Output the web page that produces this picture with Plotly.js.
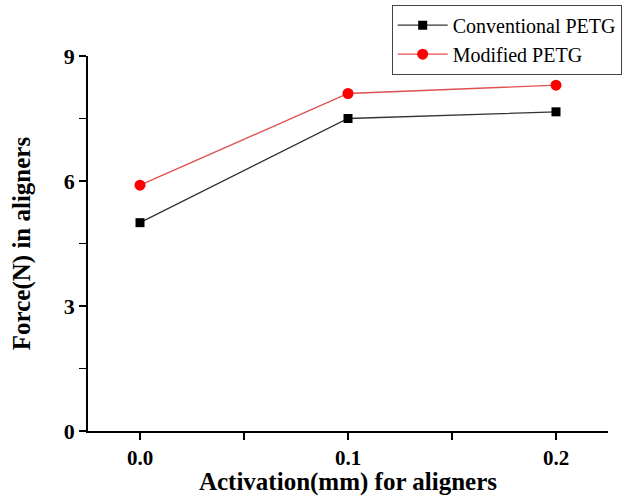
<!DOCTYPE html>
<html>
<head>
<meta charset="utf-8">
<script src="https://cdn.plot.ly/plotly-3.0.1.min.js"></script>
<style>html,body{margin:0;padding:0;background:#fff;}#chart{width:624px;height:496px;}</style>
</head>
<body>
<div id="chart"></div>
<script>
const activation = [0.0, 0.1, 0.2];
const conventionalPETG = [5.0, 7.5, 7.66];
const modifiedPETG = [5.9, 8.1, 8.3];
const seriesNames = ["Conventional PETG", "Modified PETG"];
const xTickVals = [0.0, 0.1, 0.2];
const xTickText = ["0.0", "0.1", "0.2"];
const yTickVals = [0, 3, 6, 9];

const serif = "Liberation Serif, Times New Roman, serif";

const traces = [
  {
    x: activation, y: conventionalPETG, name: seriesNames[0],
    type: "scatter", mode: "lines+markers",
    line: {color: "#333333", width: 1.3},
    marker: {symbol: "square", size: 9, color: "#000000"}
  },
  {
    x: activation, y: modifiedPETG, name: seriesNames[1],
    type: "scatter", mode: "lines+markers",
    line: {color: "#e05050", width: 1.3},
    marker: {symbol: "circle", size: 11, color: "#ff0000"}
  }
];

const layout = {
  width: 624, height: 496,
  paper_bgcolor: "#ffffff", plot_bgcolor: "#ffffff",
  margin: {l: 88, r: 16, t: 56, b: 65, autoexpand: false},
  font: {family: serif, color: "#000"},
  showlegend: true,
  legend: {
    x: 0.584, y: 1.137, xanchor: "left", yanchor: "top",
    bordercolor: "#444", borderwidth: 1, bgcolor: "#fff",
    font: {family: serif, size: 20, color: "#000"},
    itemwidth: 50,
    tracegroupgap: 0
  },
  xaxis: {
    range: [-0.025, 0.225],
    tickvals: xTickVals, ticktext: xTickText,
    ticks: "outside", ticklen: 7, tickwidth: 1.5, tickcolor: "#000",
    minor: {ticks: "outside", dtick: 0.05, tick0: 0, ticklen: 7, tickwidth: 1.5, tickcolor: "#000"},
    showline: true, linecolor: "#000", linewidth: 1.8,
    showgrid: false, zeroline: false,
    tickfont: {family: serif, size: 21, color: "#000", weight: "bold"},
    title: {text: "<b>Activation(mm) for aligners</b>", font: {family: serif, size: 25, color: "#000"}, standoff: 6}
  },
  yaxis: {
    range: [0, 9],
    tickvals: yTickVals,
    ticks: "outside", ticklen: 7, tickwidth: 1.5, tickcolor: "#000",
    minor: {ticks: "outside", dtick: 1.5, tick0: 0, ticklen: 7, tickwidth: 1.5, tickcolor: "#000"},
    showline: true, linecolor: "#000", linewidth: 1.8,
    showgrid: false, zeroline: false,
    tickfont: {family: serif, size: 22, color: "#000", weight: "bold"},
    title: {text: "<b>Force(N) in aligners</b>", font: {family: serif, size: 25, color: "#000"}, standoff: 26}
  }
};

Plotly.newPlot("chart", traces, layout, {displayModeBar: false, staticPlot: true});
</script>
</body>
</html>
